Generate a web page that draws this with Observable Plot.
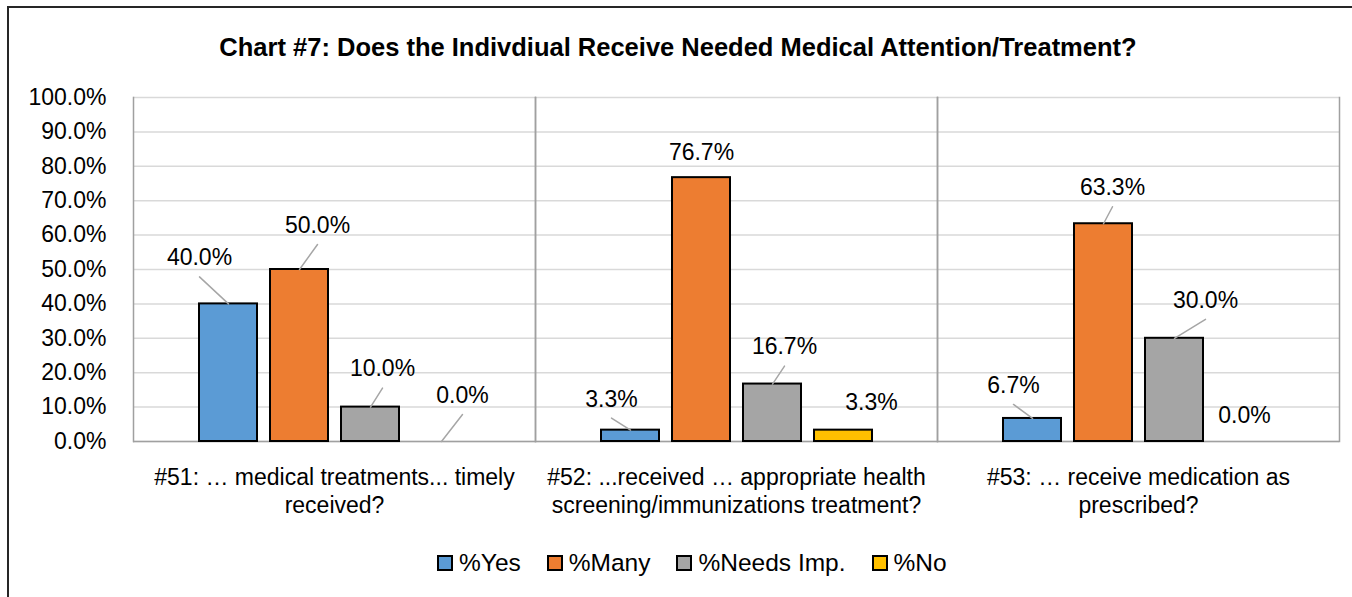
<!DOCTYPE html>
<html>
<head>
<meta charset="utf-8">
<script src="https://cdn.jsdelivr.net/npm/d3@7"></script>
<script src="https://cdn.jsdelivr.net/npm/@observablehq/plot@0.6"></script>
<style>
  html, body { margin: 0; padding: 0; background: #fff; }
  body { width: 1352px; height: 597px; position: relative; overflow: hidden;
         font-family: "Liberation Sans", Arial, sans-serif; color: #000; }
  #border { position: absolute; left: 7px; top: 6px; width: 1400px; height: 700px;
            border: 2px solid #262626; box-sizing: border-box; pointer-events: none; }
  #title { position: absolute; left: 0; top: 31px; width: 1356px; text-align: center;
           font-weight: bold; font-size: 25.5px; line-height: 32px; }
  #chart { position: absolute; left: 0; top: 70px; }
  #legend { position: absolute; left: 437px; top: 546px; display: flex; align-items: center;
            font-size: 24.5px; line-height: 34px; white-space: nowrap; }
  #legend .item { display: flex; align-items: center; margin-right: 26px; }
  #legend .sw { width: 16px; height: 16px; box-sizing: border-box; border: 2px solid #000; margin-right: 6px; }
</style>
</head>
<body>
<div id="title">Chart #7: Does the Indivdiual Receive Needed Medical Attention/Treatment?</div>
<div id="chart"></div>
<div id="legend"></div>
<div id="border"></div>
<script>
// ---- data ----
const categories = [
  "#51: … medical treatments... timely\nreceived?",
  "#52: ...received … appropriate health\nscreening/immunizations treatment?",
  "#53: … receive medication as\nprescribed?"
];
const seriesNames = ["%Yes", "%Many", "%Needs Imp.", "%No"];
const pctYes = [40.0, 3.3, 6.7];
const pctMany = [50.0, 76.7, 63.3];
const pctNeedsImp = [10.0, 16.7, 30.0];
const pctNo = [0.0, 3.3, 0.0];
const yTicks = [0, 10, 20, 30, 40, 50, 60, 70, 80, 90, 100];

// ---- styling / layout ----
const FONT = '"Liberation Sans", Arial, sans-serif';
const seriesColors = ["#5b9bd5", "#ed7d31", "#a5a5a5", "#ffc000"];
// label offsets (px) relative to the top centre of each bar, category-major order
const labelOffsets = [
  [-29, -46], [18, -44], [12, -38], [21, -46],
  [-19, -31], [0, -25], [12, -37], [28, -28],
  [-19, -33], [9, -36], [31, -38], [-1, -26]
];

const seriesValues = [pctYes, pctMany, pctNeedsImp, pctNo];
const rows = categories.flatMap((cat, i) =>
  seriesNames.map((series, j) => ({cat, series, value: seriesValues[j][i], k: i * 4 + j}))
);

const lineShape = {draw(context, l) { context.moveTo(0, 0); context.lineTo(0, -l); }};

const labelMarks = [];
const leaderMarks = [];
for (const d of rows) {
  const [dx, dy] = labelOffsets[d.k];
  labelMarks.push(Plot.text([d], {
    fx: "cat", x: "series", y: "value",
    text: v => v.value.toFixed(1) + "%",
    dx, dy, fontSize: 23, fill: "#000"
  }));
  const ex = dx, ey = dy + 19;
  if (dy <= -30) {
    leaderMarks.push(Plot.vector([d], {
      fx: "cat", x: "series", y: "value",
      length: Math.hypot(ex, ey),
      rotate: Math.atan2(ex, -ey) * 180 / Math.PI,
      anchor: "start", shape: lineShape,
      stroke: "#a6a6a6", strokeWidth: 1.5
    }));
  }
}

const chart = Plot.plot({
  width: 1352,
  height: 460,
  marginTop: 27,
  marginBottom: 89,
  marginLeft: 133,
  marginRight: 13,
  style: {fontFamily: FONT, fontSize: "23px", color: "#000", background: "transparent"},
  fx: {domain: categories, padding: 0, axis: null},
  x: {domain: seriesNames, paddingInner: 0.19, paddingOuter: 0.89, axis: null},
  y: {domain: [0, 100], axis: null},
  color: {domain: seriesNames, range: seriesColors},
  marks: [
    Plot.gridY(yTicks, {stroke: "#d9d9d9", strokeOpacity: 1, strokeWidth: 1.5}),
    Plot.frame({anchor: "left", stroke: "#a0a0a0", strokeWidth: 1.5}),
    Plot.frame({anchor: "right", stroke: "#a0a0a0", strokeWidth: 1.5}),
    Plot.ruleY([0], {stroke: "#a0a0a0", strokeWidth: 1.5}),
    Plot.barY(rows.filter(d => d.value > 0), {
      fx: "cat", x: "series", y: "value", fill: "series", stroke: "#000", strokeWidth: 2
    }),
    ...leaderMarks,
    ...labelMarks,
    Plot.axisY(yTicks, {
      tickSize: 0, tickPadding: 27, label: null, fontSize: 23,
      tickFormat: d => d.toFixed(1) + "%"
    }),
    Plot.text(categories, {
      fx: d => d, text: d => d, frameAnchor: "bottom", lineAnchor: "top",
      dy: 24, fontSize: 23, lineHeight: 1.217, fill: "#000"
    })
  ]
});
document.getElementById("chart").appendChild(chart);

const legend = document.getElementById("legend");
seriesNames.forEach((name, i) => {
  const item = document.createElement("div");
  item.className = "item";
  const sw = document.createElement("div");
  sw.className = "sw";
  sw.style.background = seriesColors[i];
  const label = document.createElement("span");
  label.textContent = name;
  item.appendChild(sw);
  item.appendChild(label);
  legend.appendChild(item);
});
</script>
</body>
</html>
